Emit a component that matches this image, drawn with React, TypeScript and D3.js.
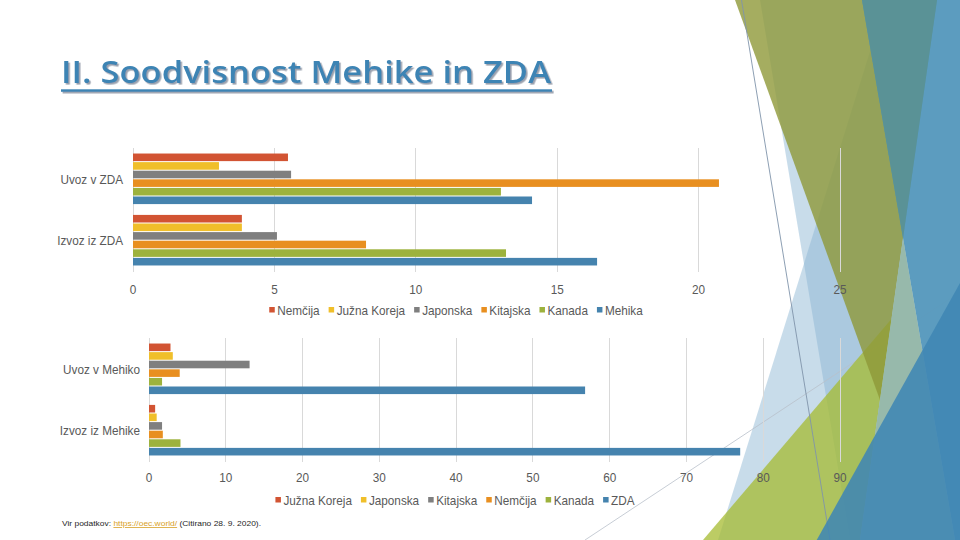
import React, { useEffect, useRef } from "react";
import * as d3 from "d3";

// ---------- DATA ----------
const topCategories = ["Uvoz v ZDA", "Izvoz iz ZDA"];
const topSeries = ["Nemčija", "Južna Koreja", "Japonska", "Kitajska", "Kanada", "Mehika"];
const topUvoz = [5.48, 3.04, 5.59, 20.72, 13.01, 14.11];
const topIzvoz = [3.85, 3.85, 5.09, 8.24, 13.19, 16.41];
const topTicks = [0, 5, 10, 15, 20, 25];

const bottomCategories = ["Uvoz v Mehiko", "Izvoz iz Mehike"];
const bottomSeries = ["Južna Koreja", "Japonska", "Kitajska", "Nemčija", "Kanada", "ZDA"];
const bottomUvoz = [2.8, 3.1, 13.1, 4.0, 1.7, 56.8];
const bottomIzvoz = [0.8, 1.0, 1.7, 1.8, 4.1, 77.0];
const bottomTicks = [0, 10, 20, 30, 40, 50, 60, 70, 80, 90];

const seriesColors = ["#d25433", "#f0bf2a", "#7f7f7f", "#e88f20", "#9db23d", "#4583ae"];

const titleText = "II. Soodvisnost Mehike in ZDA";
const sourcePrefix = "Vir podatkov: ";
const sourceLink = "https://oec.world/";
const sourceSuffix = " (Citirano 28. 9. 2020).";

const LABEL_FONT = "'Liberation Sans Narrow','Arial Narrow','Liberation Sans',Arial,sans-serif";
const LABEL_SIZE = 13.5;
const SQUEEZE = 0.87;
const TEXT_COLOR = "#595959";

type ChartCfg = {
  categories: string[];
  series: string[];
  values: number[][];
  ticks: number[];
  x0: number;
  x1: number;
  y0: number;
  y1: number;
  labelGap: number;
  tickY: number;
  legendY: number;
  legendCx: number;
};

function drawChart(root: d3.Selection<SVGGElement, unknown, null, undefined>, cfg: ChartCfg) {
  const g = root.append("g");
  const x = d3
    .scaleLinear()
    .domain([0, cfg.ticks[cfg.ticks.length - 1]])
    .range([cfg.x0, cfg.x1]);
  const y = d3
    .scaleBand<string>()
    .domain(cfg.categories)
    .range([cfg.y0, cfg.y1])
    .paddingInner(0.16)
    .paddingOuter(0.09);
  const ys = d3.scaleBand<string>().domain(cfg.series).range([0, y.bandwidth()]);

  // gridlines
  g.selectAll("line.grid")
    .data(cfg.ticks)
    .join("line")
    .attr("x1", (d) => x(d))
    .attr("x2", (d) => x(d))
    .attr("y1", cfg.y0)
    .attr("y2", cfg.y1)
    .attr("stroke", "#d9d9d9")
    .attr("stroke-width", 1)
    .attr("shape-rendering", "crispEdges");

  // bars
  cfg.categories.forEach((c, ci) => {
    const rows = cfg.values[ci].map((v, i) => ({ v, s: cfg.series[i], i }));
    g.append("g")
      .selectAll("rect")
      .data(rows)
      .join("rect")
      .attr("x", x(0))
      .attr("y", (d) => (y(c) as number) + (ys(d.s) as number))
      .attr("width", (d) => x(d.v) - x(0))
      .attr("height", ys.bandwidth() - 1)
      .attr("fill", (d) => seriesColors[d.i]);
  });

  // category labels
  g.selectAll("text.cat")
    .data(cfg.categories)
    .join("text")
    .attr(
      "transform",
      (d) => `translate(${cfg.x0 - cfg.labelGap},${(y(d) as number) + y.bandwidth() / 2}) scale(${SQUEEZE},1)`
    )
    .attr("dy", "0.35em")
    .attr("text-anchor", "end")
    .attr("font-family", LABEL_FONT)
    .attr("font-size", LABEL_SIZE)
    .attr("fill", TEXT_COLOR)
    .text((d) => d);

  // tick labels
  g.selectAll("text.tick")
    .data(cfg.ticks)
    .join("text")
    .attr("transform", (d) => `translate(${x(d)},${cfg.tickY}) scale(${SQUEEZE},1)`)
    .attr("dy", "0.35em")
    .attr("text-anchor", "middle")
    .attr("font-family", LABEL_FONT)
    .attr("font-size", LABEL_SIZE)
    .attr("fill", TEXT_COLOR)
    .text((d) => String(d));

  // legend (measured, centred)
  const lg = g.append("g");
  const items = cfg.series.map((s, i) => {
    const it = lg.append("g");
    it.append("rect")
      .attr("x", 0)
      .attr("y", cfg.legendY - 3)
      .attr("width", 5.5)
      .attr("height", 5.5)
      .attr("fill", seriesColors[i]);
    const t = it
      .append("text")
      .attr("transform", `translate(8,${cfg.legendY}) scale(${SQUEEZE},1)`)
      .attr("dy", "0.35em")
      .attr("font-family", LABEL_FONT)
      .attr("font-size", LABEL_SIZE)
      .attr("fill", TEXT_COLOR)
      .text(s);
    const w = (t.node() as SVGTextElement).getComputedTextLength() * SQUEEZE;
    return { it, w: 8 + w };
  });
  const gap = 9;
  const total = d3.sum(items, (d) => d.w) + gap * (items.length - 1);
  let cx = cfg.legendCx - total / 2;
  items.forEach((d) => {
    d.it.attr("transform", `translate(${cx},0)`);
    cx += d.w + gap;
  });
}

// decorative slide shapes (right edge)
const deco = {
  lb1: [[760, 0], [960, 0], [960, 540], [850, 540]],
  lb2: [[886, 0], [960, 0], [960, 540], [718, 540]],
  yg: [[703, 540], [891.6, 318.8], [860, 540]],
  olive: [[735, 0], [937, 0], [880, 400]],
  b1: [[862, 0], [960, 0], [960, 540], [955, 540]],
  teal: [[862, 0], [937, 0], [903, 238]],
  sage: [[903, 238], [955, 540], [860, 540]],
  b2: [[960, 283], [960, 540], [816.7, 540]],
};

function pts(p: number[][]) {
  return p.map((q) => q.join(",")).join(" ");
}

export default function App() {
  const ref = useRef<SVGGElement | null>(null);

  useEffect(() => {
    const root = d3.select(ref.current as SVGGElement);
    root.selectAll("*").remove();
    drawChart(root, {
      categories: topCategories,
      series: topSeries,
      values: [topUvoz, topIzvoz],
      ticks: topTicks,
      x0: 133,
      x1: 840,
      y0: 148,
      y1: 272,
      labelGap: 10,
      tickY: 289,
      legendY: 310,
      legendCx: 456,
    });
    drawChart(root, {
      categories: bottomCategories,
      series: bottomSeries,
      values: [bottomUvoz, bottomIzvoz],
      ticks: bottomTicks,
      x0: 149,
      x1: 840,
      y0: 338,
      y1: 462,
      labelGap: 9,
      tickY: 477,
      legendY: 500,
      legendCx: 455,
    });
  }, []);

  return (
    <svg
      width={960}
      height={540}
      viewBox="0 0 960 540"
      style={{ position: "absolute", left: 0, top: 0, background: "#ffffff" }}
    >
      <defs>
        <filter id="titleShadow" x="-5%" y="-20%" width="110%" height="150%">
          <feDropShadow dx={1.6} dy={1.6} stdDeviation={0.4} floodColor="#8f97a6" floodOpacity={0.9} />
        </filter>
      </defs>
      <rect x={0} y={0} width={960} height={540} fill="#ffffff" />
      {/* decoration */}
      <polygon points={pts(deco.lb1)} fill="rgb(138,181,211)" fillOpacity={0.47} />
      <polygon points={pts(deco.lb2)} fill="rgb(138,181,211)" fillOpacity={0.47} />
      <line x1={585} y1={540} x2={960} y2={292} stroke="#b9c0ca" strokeWidth={0.8} />
      <polygon points={pts(deco.yg)} fill="rgb(166,187,48)" fillOpacity={0.75} />
      <polygon points={pts(deco.olive)} fill="rgb(143,153,56)" fillOpacity={0.8} />
      <polygon points={pts(deco.b1)} fill="rgb(77,148,186)" fillOpacity={0.85} />
      <polygon points={pts(deco.teal)} fill="rgb(90,146,150)" />
      <polygon points={pts(deco.sage)} fill="rgb(151,185,171)" />
      <line x1={741.5} y1={0} x2={830} y2={540} stroke="#8094aa" strokeWidth={0.9} />
      <polygon points={pts(deco.b2)} fill="rgb(64,134,180)" fillOpacity={0.88} />

      {/* title */}
      <g filter="url(#titleShadow)" fill="#3d84b4">
        <text
          x={61}
          y={83}
          fontFamily="'Open Sans','DejaVu Sans',sans-serif"
          fontWeight={600}
          fontSize={31}
          textLength={490}
          lengthAdjust="spacingAndGlyphs"
        >
          {titleText}
        </text>
        <rect x={61} y={89.3} width={491} height={2.5} />
      </g>

      <g ref={ref} />

      {/* source */}
      <text
        x={62}
        y={526}
        fontFamily={LABEL_FONT}
        fontSize={8}
        fill="#262626"
        textLength={199}
        lengthAdjust="spacingAndGlyphs"
      >
        <tspan>{sourcePrefix}</tspan>
        <tspan fill="#d9a227" textDecoration="underline">
          {sourceLink}
        </tspan>
        <tspan>{sourceSuffix}</tspan>
      </text>
    </svg>
  );
}
